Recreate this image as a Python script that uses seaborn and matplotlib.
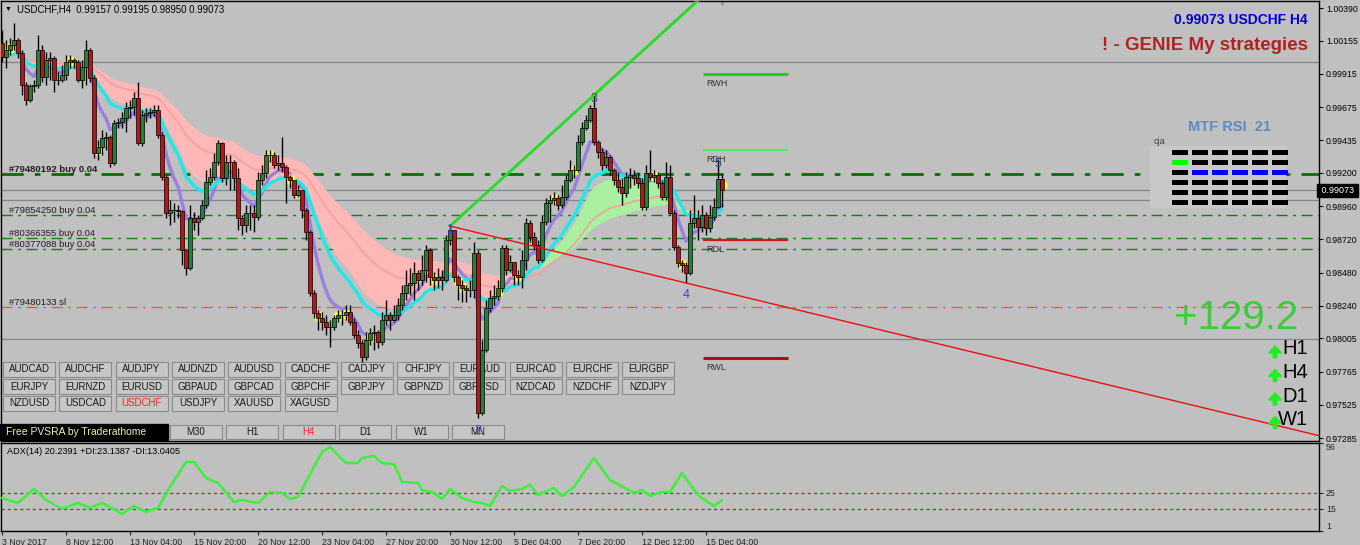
import matplotlib
matplotlib.use('Agg')
import matplotlib.pyplot as plt
from matplotlib.patches import Rectangle, FancyArrow
import numpy as np
import pandas as pd
import seaborn as sns

W, H, DPI = 1360, 545, 100
BG = '#c0c0c0'

# ---- USDCHF H4 candles ----
first_open = 1.00138
closes = [
    1.00037, 1.00087, 1.00123, 1.00159, 1.00065, 0.99834, 0.99726, 0.99827, 0.99834, 1.00087,
    0.99892, 1.00015, 1.00029, 0.99870, 0.99870, 0.99907, 1.00000, 1.00015, 1.00000, 0.99870,
    0.99964, 1.00087, 0.99885, 0.99343, 0.99387, 0.99452, 0.99459, 0.99271, 0.99560, 0.99567,
    0.99596, 0.99668, 0.99676, 0.99740, 0.99416, 0.99618, 0.99632, 0.99639, 0.99654, 0.99473,
    0.99170, 0.98910, 0.98932, 0.98932, 0.98925, 0.98643, 0.98513, 0.98874, 0.98845, 0.98874,
    0.98968, 0.99134, 0.99170, 0.99278, 0.99416, 0.99163, 0.99278, 0.99278, 0.99163, 0.98874,
    0.98823, 0.98910, 0.98910, 0.98881, 0.99148, 0.99199, 0.99329, 0.99329, 0.99257, 0.99271,
    0.99242, 0.99170, 0.99148, 0.99040, 0.99076, 0.98932, 0.98773, 0.98333, 0.98188, 0.98152,
    0.98123, 0.98087, 0.98087, 0.98152, 0.98174, 0.98174, 0.98195, 0.98123, 0.98029, 0.97972,
    0.97871, 0.97993, 0.98044, 0.98051, 0.97979, 0.98138, 0.98174, 0.98138, 0.98174, 0.98246,
    0.98333, 0.98390, 0.98405, 0.98477, 0.98426, 0.98499, 0.98643, 0.98448, 0.98426, 0.98448,
    0.98426, 0.98715, 0.98787, 0.98448, 0.98390, 0.98369, 0.98354, 0.98354, 0.98621, 0.97466,
    0.97921, 0.98224, 0.98296, 0.98311, 0.98369, 0.98657, 0.98499, 0.98556, 0.98463, 0.98448,
    0.98571, 0.98838, 0.98737, 0.98679, 0.98571, 0.98845, 0.98982, 0.99004, 0.99018, 0.98968,
    0.99026, 0.99148, 0.99221, 0.99221, 0.99423, 0.99524, 0.99582, 0.99668, 0.99423, 0.99351,
    0.99257, 0.99315, 0.99221, 0.99148, 0.99098, 0.99055, 0.99170, 0.99185, 0.99163, 0.99127,
    0.98953, 0.99199, 0.99170, 0.99185, 0.99127, 0.99026, 0.99170, 0.98910, 0.98665, 0.98549,
    0.98535, 0.98477, 0.98838, 0.98874, 0.98809, 0.98896, 0.98802, 0.98881, 0.98953, 0.99157,
    0.99073]
highs = [
    1.00231, 1.00159, 1.00174, 1.00282, 1.00174, 1.00087, 0.99856, 0.99842, 0.99870, 1.00195,
    1.00123, 1.00073, 1.00073, 1.00044, 0.99928, 0.99979, 1.00051, 1.00051, 1.00029, 1.00015,
    1.00015, 1.00159, 1.00101, 0.99907, 0.99437, 0.99509, 0.99495, 0.99473, 0.99582, 0.99596,
    0.99639, 0.99712, 0.99726, 0.99784, 0.99856, 0.99654, 0.99668, 0.99668, 0.99690, 0.99690,
    0.99495, 0.99185, 0.99004, 0.98982, 0.98968, 0.98932, 0.98643, 0.98968, 0.98917, 0.98896,
    0.99004, 0.99221, 0.99235, 0.99343, 0.99437, 0.99423, 0.99329, 0.99329, 0.99293, 0.99235,
    0.98896, 0.98968, 0.98968, 0.98968, 0.99206, 0.99257, 0.99365, 0.99365, 0.99351, 0.99329,
    0.99459, 0.99257, 0.99185, 0.99134, 0.99112, 0.99062, 0.98946, 0.98787, 0.98354, 0.98210,
    0.98195, 0.98174, 0.98138, 0.98174, 0.98210, 0.98210, 0.98246, 0.98246, 0.98152, 0.98065,
    0.97993, 0.98051, 0.98080, 0.98102, 0.98065, 0.98195, 0.98282, 0.98195, 0.98246, 0.98296,
    0.98390, 0.98499, 0.98513, 0.98556, 0.98499, 0.98607, 0.98679, 0.98657, 0.98484, 0.98513,
    0.98499, 0.98751, 0.98816, 0.98715, 0.98463, 0.98426, 0.98390, 0.98426, 0.98701, 0.98643,
    0.97993, 0.98282, 0.98354, 0.98390, 0.98426, 0.98679, 0.98679, 0.98607, 0.98556, 0.98499,
    0.98643, 0.98874, 0.98860, 0.98773, 0.98715, 0.98896, 0.99018, 0.99040, 0.99062, 0.99040,
    0.99112, 0.99185, 0.99293, 0.99257, 0.99473, 0.99567, 0.99618, 0.99690, 0.99762, 0.99437,
    0.99379, 0.99365, 0.99329, 0.99235, 0.99206, 0.99163, 0.99206, 0.99235, 0.99221, 0.99206,
    0.99163, 0.99257, 0.99365, 0.99221, 0.99206, 0.99148, 0.99278, 0.99257, 0.98932, 0.98679,
    0.98571, 0.98556, 0.98932, 0.99040, 0.98932, 0.98968, 0.98917, 0.98968, 0.99018, 0.99293,
    0.99195]
lows = [
    1.00000, 0.99957, 1.00051, 1.00087, 1.00029, 0.99762, 0.99690, 0.99712, 0.99784, 0.99813,
    0.99856, 0.99834, 0.99870, 0.99784, 0.99834, 0.99856, 0.99870, 0.99957, 0.99957, 0.99856,
    0.99813, 0.99834, 0.99856, 0.99307, 0.99293, 0.99329, 0.99365, 0.99242, 0.99257, 0.99524,
    0.99524, 0.99495, 0.99596, 0.99618, 0.99401, 0.99394, 0.99567, 0.99596, 0.99610, 0.99452,
    0.99148, 0.98874, 0.98823, 0.98845, 0.98874, 0.98535, 0.98463, 0.98499, 0.98787, 0.98751,
    0.98860, 0.98946, 0.99112, 0.99148, 0.99257, 0.99134, 0.99112, 0.99076, 0.99076, 0.98787,
    0.98751, 0.98773, 0.98787, 0.98773, 0.98860, 0.99112, 0.99163, 0.99278, 0.99235, 0.99221,
    0.99206, 0.98982, 0.99091, 0.99018, 0.99026, 0.98874, 0.98715, 0.98311, 0.98152, 0.98065,
    0.98065, 0.98029, 0.97943, 0.98065, 0.98123, 0.98102, 0.98138, 0.98102, 0.98008, 0.97935,
    0.97834, 0.97849, 0.97957, 0.97921, 0.97935, 0.97957, 0.98102, 0.98065, 0.98123, 0.98138,
    0.98210, 0.98282, 0.98318, 0.98282, 0.98354, 0.98390, 0.98412, 0.98390, 0.98354, 0.98369,
    0.98354, 0.98412, 0.98679, 0.98412, 0.98282, 0.98268, 0.98268, 0.98304, 0.98296, 0.97430,
    0.97452, 0.97907, 0.98195, 0.98246, 0.98282, 0.98340, 0.98463, 0.98484, 0.98390, 0.98390,
    0.98369, 0.98499, 0.98701, 0.98643, 0.98549, 0.98556, 0.98823, 0.98845, 0.98968, 0.98932,
    0.98946, 0.99004, 0.99134, 0.99163, 0.99206, 0.99401, 0.99509, 0.99567, 0.99401, 0.99307,
    0.99221, 0.99235, 0.99185, 0.99112, 0.99062, 0.98968, 0.99026, 0.99091, 0.99112, 0.99091,
    0.98932, 0.98932, 0.99148, 0.99134, 0.99091, 0.99004, 0.99004, 0.98896, 0.98643, 0.98520,
    0.98484, 0.98405, 0.98463, 0.98802, 0.98715, 0.98773, 0.98751, 0.98773, 0.98860, 0.98946,
    0.98950]
yellow_bars = [2, 17, 24, 67, 72, 74, 79, 84, 86, 92, 104, 108, 114, 115, 124, 127, 129,
               138, 143, 163, 170, 180]

time_ticks = list(range(0, 177, 16))
time_labels = ['3 Nov 2017', '8 Nov 12:00', '13 Nov 04:00', '15 Nov 20:00', '20 Nov 12:00',
               '23 Nov 04:00', '27 Nov 20:00', '30 Nov 12:00', '5 Dec 04:00', '7 Dec 20:00',
               '12 Dec 12:00', '15 Dec 04:00']
price_ticks = [1.00390, 1.00155, 0.99915, 0.99675, 0.99435, 0.99200, 0.98960, 0.98720,
               0.98480, 0.98240, 0.98005, 0.97765, 0.97525, 0.97285]
last_price = 0.99073

# orders and levels
order_prices = [0.99192, 0.98896, 0.98730, 0.98650]
order_labels = ['#79480192 buy 0.04', '#79854250 buy 0.04', '#80366355 buy 0.04',
                '#80377088 buy 0.04']
sl_price = 0.98230
gray_levels = [1.00000, 0.99073, 0.99004, 0.98000]
level_names = ['RWH', 'RDH', 'RDL', 'RWL']
level_prices = [0.99914, 0.99365, 0.98715, 0.97863]

# wave points (bar, price, label)
wave_bars = [112, 119, 148, 171, 179]
wave_prices = [0.98816, 0.97430, 0.99762, 0.98405, 0.99293]
wave_names = ['1', '2', '3', '4', '5']

# ADX(14)
adx_bars = [0, 4, 8, 11, 15, 19, 22, 25, 27, 30, 33, 36, 39, 42, 46, 48, 51, 54, 58, 60,
            64, 67, 70, 72, 74, 80, 82, 86, 89, 90, 93, 95, 98, 100, 104, 105, 108, 110,
            112, 115, 118, 120, 122, 125, 127, 130, 132, 134, 138, 140, 143, 148, 152,
            158, 160, 162, 165, 167, 170, 174, 176, 178, 180]
adx_vals = [21.6, 18.5, 27.3, 20.4, 14.8, 18.5, 15.4, 18.5, 16.0, 11.6, 16.6, 12.9, 15.4,
            28.5, 44.1, 44.1, 34.1, 31.0, 19.1, 20.4, 18.5, 25.4, 24.8, 21.0, 22.3, 50.4,
            53.5, 43.5, 43.5, 46.6, 47.9, 43.5, 42.9, 31.6, 31.0, 26.6, 24.8, 21.0, 27.3,
            21.6, 19.1, 18.5, 16.6, 29.1, 26.0, 27.3, 29.9, 23.5, 27.9, 22.9, 28.5, 46.6,
            32.9, 24.8, 26.6, 22.9, 25.4, 25.4, 37.3, 23.5, 19.8, 16.6, 20.2]

pairs = [['AUDCAD', 'AUDCHF', 'AUDJPY', 'AUDNZD', 'AUDUSD', 'CADCHF', 'CADJPY', 'CHFJPY',
          'EURAUD', 'EURCAD', 'EURCHF', 'EURGBP'],
         ['EURJPY', 'EURNZD', 'EURUSD', 'GBPAUD', 'GBPCAD', 'GBPCHF', 'GBPJPY', 'GBPNZD',
          'GBPUSD', 'NZDCAD', 'NZDCHF', 'NZDJPY'],
         ['NZDUSD', 'USDCAD', 'USDCHF', 'USDJPY', 'XAUUSD', 'XAGUSD']]
timeframes = ['M30', 'H1', 'H4', 'D1', 'W1', 'MN']
rsi_states = [[0] * 6, [1, 0, 0, 0, 0, 0], [0, 2, 2, 2, 2, 2], [0] * 6, [0] * 6, [0] * 6]
mtf_arrows = ['H1', 'H4', 'D1', 'W1']

sns.set_style('ticks')
plt.rcParams['font.family'] = ['Liberation Sans', 'DejaVu Sans']

df = pd.DataFrame({'bar': np.arange(len(closes)), 'close': closes, 'high': highs, 'low': lows})
df['open'] = df['close'].shift(1).fillna(first_open)
df['ema_fast'] = df['close'].ewm(span=7, adjust=False).mean()
df['ema_mid'] = df['close'].ewm(span=17, adjust=False).mean()
df['band_a'] = df['close'].ewm(span=21, adjust=False).mean()
df['band_b'] = df['close'].ewm(span=55, adjust=False).mean()
df['ema_slow'] = df['close'].ewm(span=40, adjust=False).mean()

fig = plt.figure(figsize=(W / DPI, H / DPI), dpi=DPI, facecolor=BG)
ax = fig.add_axes([1 / W, 1 - 441 / H, 1318 / W, 440 / H], facecolor=BG)
ax2 = fig.add_axes([1 / W, 1 - 531 / H, 1318 / W, 88 / H], facecolor=BG)


def prect(x, y, w, h, z=2.8, **kw):
    ax.add_patch(Rectangle((x / DPI, (H - y - h) / DPI), w / DPI, h / DPI,
                           transform=fig.dpi_scale_trans, zorder=z, clip_on=False, **kw))


def ptext(x, y, s, z=6, **kw):
    ax.text(x / DPI, (H - y) / DPI, s, transform=fig.dpi_scale_trans, zorder=z,
            clip_on=False, **kw)


ax.set_xlim(-0.25, 329.25)
ax.set_ylim(0.97264, 1.00441)
ytr = ax.get_yaxis_transform()

# horizontal lines
for p in gray_levels:
    ax.axhline(p, color='#7a8898', lw=0.9, zorder=1)
ax.axhline(order_prices[0], color='#0b6b0b', lw=2.0, ls=(0, (8, 4, 2, 4)), zorder=1)
for p in order_prices[1:]:
    ax.axhline(p, color='#1a7a1a', lw=1.0, ls=(0, (8, 4, 2, 4)), zorder=1)
ax.axhline(sl_price, color='#f0603a', lw=1.0, ls=(0, (8, 4, 2, 4)), zorder=1)
for p, s in zip(order_prices, order_labels):
    ax.text(8 / 1318, p, s, transform=ytr, fontsize=6.8, color='#202020', va='bottom',
            fontweight='bold' if s.startswith('#794801') else 'normal', zorder=6)
ax.text(8 / 1318, sl_price, '#79480133 sl', transform=ytr, fontsize=6.8, color='#202020',
        va='bottom', zorder=6)

# moving-average cloud and lines
up = df['band_a'] >= df['band_b']
ax.fill_between(df['bar'], df['band_a'], df['band_b'], where=up, color='#aaf0a0',
                interpolate=True, lw=0, zorder=1.5)
ax.fill_between(df['bar'], df['band_a'], df['band_b'], where=~up, color='#ffb8b8',
                interpolate=True, lw=0, zorder=1.5)
sns.lineplot(data=df, x='bar', y='ema_slow', ax=ax, color='#f2a0a0', lw=1.2, zorder=1.6)
sns.lineplot(data=df, x='bar', y='ema_mid', ax=ax, color='#20e8e8', lw=2.4, zorder=2.2)
sns.lineplot(data=df, x='bar', y='ema_fast', ax=ax, color='#9a7ee0', lw=2.4, zorder=2.1)

# yellow volume highlights
yb = df.loc[yellow_bars]
ax.scatter(yb['bar'], (yb['open'] + yb['close']) / 2, s=55, color='#ffff30', lw=0, zorder=2.5)

# candles
rising = df['close'] >= df['open']
body_lo = np.minimum(df['open'], df['close'])
body_h = np.maximum((df['close'] - df['open']).abs(), 0.00003)
ax.vlines(df['bar'], df['low'], df['high'], color='black', lw=1.0, zorder=3)
ax.bar(df['bar'], body_h, bottom=body_lo, width=0.8,
       color=np.where(rising, '#2f7a3a', '#a81c1c'), edgecolor='black', lw=0.5, zorder=3.5)

# wave trendlines
x1, p1 = wave_bars[0], wave_prices[0]
g_slope = (wave_prices[2] - p1) / (wave_bars[2] - x1)
r_slope = (wave_prices[3] - p1) / (wave_bars[3] - x1)
ax.plot([x1, 330], [p1, p1 + g_slope * (330 - x1)], color='#22dd22', lw=2.0, zorder=4)
ax.plot([x1, 330], [p1, p1 + r_slope * (330 - x1)], color='#e81010', lw=1.0, zorder=4)
for b, p, s in zip(wave_bars, wave_prices, wave_names):
    off = -9 if s in ('2', '4') else -3
    ax.annotate(s, (b, p), xytext=(0, off), textcoords='offset points', ha='center',
                va='center', fontsize=9, color='#3a40c8', zorder=6)

# daily / weekly levels
lvl_colors = ['#22cc22', '#44ee66', '#cc1a1a', '#aa1010']
lvl_widths = [2.2, 1.6, 1.6, 2.2]
for name, p, c, lw in zip(level_names, level_prices, lvl_colors, lvl_widths):
    ax.hlines(p, 175.3, 196.5, color=c, lw=lw, zorder=4)
    ax.annotate(name, (176, p), xytext=(0, -7), textcoords='offset points', fontsize=6.5,
                color='#303030', va='center', zorder=6)

# price axis
ax.yaxis.tick_right()
ax.set_yticks(price_ticks)
ax.set_yticklabels([f'{v:.5f}' for v in price_ticks])
ax.tick_params(axis='y', length=3, width=0.8, labelsize=6.3, pad=2, colors='black')
ax.set_xticks([])
ax.set_xlabel('')
ax.set_ylabel('')
for sp in ax.spines.values():
    sp.set_color('black')
    sp.set_linewidth(1.0)
ax.text(1.0, last_price, f' {last_price:.5f} ', transform=ytr, fontsize=6.5, color='white',
        va='center', ha='left', zorder=7, clip_on=False,
        bbox=dict(boxstyle='square,pad=0.2', fc='black', ec='black'))

# header texts
ptext(5, 9, '\u25bc', fontsize=5, color='black', va='center')
ptext(17, 9, 'USDCHF,H4  0.99157 0.99195 0.98950 0.99073', fontsize=6.9, color='black',
      va='center')
ptext(722, 4, '\u25bc', fontsize=5, color='#7a8898', va='center', ha='center')
ptext(1308, 20, '0.99073 USDCHF H4', fontsize=10, fontweight='bold', color='#0000cc',
      ha='right', va='center')
ptext(1308, 46, '! - GENIE My strategies', fontsize=13.5, fontweight='bold',
      color='#b22222', ha='right', va='center')

# MTF RSI block
prect(1150, 146, 136, 62, z=1.2, fc='#c8c8c8', ec='none')
ptext(1229, 127, 'MTF RSI  21', fontsize=10.5, fontweight='bold', color='#5a8cc4',
      ha='center', va='center')
ptext(1154, 142, 'cja', fontsize=6.5, color='#404040', va='center')
cell_colors = {0: 'black', 1: '#00ff00', 2: '#0000ff'}
for r, row in enumerate(rsi_states):
    for c, st in enumerate(row):
        prect(1172 + 20 * c, 150 + 10 * r, 16, 5, z=5, fc=cell_colors[st], ec='none')

# profit and trend arrows
ptext(1298, 318, '+129.2', fontsize=29, color='#3dcb3d', ha='right', va='center')
for k, s in enumerate(mtf_arrows):
    yc = 349 + 23.5 * k
    ax.add_patch(FancyArrow(1275 / DPI, (H - yc - 9) / DPI, 0, 0.12, width=0.035,
                            head_width=0.13, head_length=0.07, length_includes_head=True,
                            transform=fig.dpi_scale_trans, color='#22ee22', zorder=6,
                            clip_on=False))
    ptext(1308, yc, s, fontsize=14.5, color='black', ha='right', va='center')

# symbol buttons
for r, row in enumerate(pairs):
    for k, s in enumerate(row):
        bx = 3 + 56.3 * k
        by = 362 + 17 * r
        prect(bx, by, 52, 15, fc='#c6c6c6', ec='#8a8a8a', lw=0.8)
        ptext(bx + 26, by + 7.5, s, fontsize=7, ha='center', va='center', z=2.9,
              color='#ff2020' if s == 'USDCHF' else '#1a1a1a')
prect(0, 424, 168, 16, fc='black', ec='black')
ptext(6, 432, 'Free PVSRA by Traderathome', fontsize=7.5, color='#f0f0a0', va='center', z=2.9)
for k, s in enumerate(timeframes):
    bx = 170 + 56.4 * k
    prect(bx, 425, 52, 14, fc='#c6c6c6', ec='#8a8a8a', lw=0.8)
    ptext(bx + 26, 432, s, fontsize=7, ha='center', va='center', z=2.9,
          color='#ff2020' if s == 'H4' else '#1a1a1a')

# ADX panel
ax2.set_xlim(-0.25, 329.25)
ax2.set_ylim(1, 56)
for lv in (25, 15):
    ax2.axhline(lv, color='#1f6f1f', lw=0.9, ls=(0, (2.5, 2.5)), zorder=1)
sns.lineplot(x=adx_bars, y=adx_vals, ax=ax2, color='#3cf03c', lw=1.8, zorder=3)
ax2.text(6 / 1318, 0.9, 'ADX(14) 20.2391 +DI:23.1387 -DI:13.0405', transform=ax2.transAxes,
         fontsize=6.6, color='black', va='center')
ax2.yaxis.tick_right()
ax2.set_yticks([56, 25, 15, 1])
ax2.set_yticklabels(['56', '25', '15', '1'])
ax2.tick_params(axis='y', length=3, width=0.8, labelsize=6.3, pad=2)
ylabs = ax2.get_yticklabels()
ylabs[0].set_va('top')
ylabs[3].set_va('bottom')
ax2.set_xticks(time_ticks)
ax2.set_xticklabels(time_labels, ha='left')
ax2.tick_params(axis='x', length=3, width=0.8, labelsize=6.3, pad=2)
ax2.set_xlabel('')
ax2.set_ylabel('')
for sp in ax2.spines.values():
    sp.set_color('black')
    sp.set_linewidth(1.0)

fig.savefig('out.png', dpi=DPI, facecolor=BG)
